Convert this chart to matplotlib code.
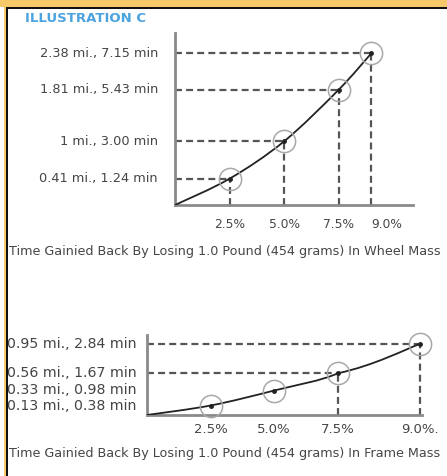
"""Recovery of time gained back by losing mass: wheel vs frame (Illustration C)."""
import numpy as np
import matplotlib.pyplot as plt
from matplotlib.path import Path
from matplotlib.patches import PathPatch, Rectangle
from matplotlib.transforms import blended_transform_factory

plt.rcParams["font.family"] = ["DejaVu Sans"]
plt.rcParams["lines.scale_dashes"] = False

# wheel mass chart (top)
WHEEL_PCT = [2.5, 5.0, 7.5, 9.0]
WHEEL_MIN = [1.24, 3.00, 5.43, 7.15]
WHEEL_LABELS = ["0.41 mi., 1.24 min", "1 mi., 3.00 min",
                "1.81 mi., 5.43 min", "2.38 mi., 7.15 min"]
WHEEL_XTICKS = ["2.5%", "5.0%", "7.5%", "9.0%"]

# frame mass chart (bottom)
FRAME_PCT = [2.5, 5.0, 7.5, 9.0]
FRAME_MIN = [0.38, 0.98, 1.67, 2.84]
FRAME_LABELS = ["0.13 mi., 0.38 min", "0.33 mi., 0.98 min",
                "0.56 mi., 1.67 min", "0.95 mi., 2.84 min"]
FRAME_XTICKS = ["2.5%", "5.0%", "7.5%", "9.0%."]
FRAME_GUIDES = [False, False, True, True]

TITLE = "ILLUSTRATION C"
CAP_WHEEL = "Time Gainied Back By Losing 1.0 Pound (454 grams) In Wheel Mass"
CAP_FRAME = "Time Gainied Back By Losing 1.0 Pound (454 grams) In Frame Mass"

W, H = 447, 476
TEXT = "#454545"
DASH = "#555555"
AXIS = "#8a8a8a"


def px(x0, y0, x1, y1):
    # pixel box (top-left origin) -> figure rect
    return [x0 / W, 1 - y1 / H, (x1 - x0) / W, (y1 - y0) / H]


def smooth_path(xs, ys):
    pts = np.column_stack([xs, ys]).astype(float)
    pad = np.vstack([pts[0], pts, pts[-1]])
    verts, codes = [pts[0]], [Path.MOVETO]
    for i in range(len(pts) - 1):
        p0, p1, p2, p3 = pad[i], pad[i + 1], pad[i + 2], pad[i + 3]
        verts += [p1 + (p2 - p0) / 6, p2 - (p3 - p1) / 6, p2]
        codes += [Path.CURVE4] * 3
    return Path(verts, codes)


def style(ax):
    for s in ("top", "right"):
        ax.spines[s].set_visible(False)
    for s in ("left", "bottom"):
        ax.spines[s].set_color(AXIS)
        ax.spines[s].set_linewidth(2)
    ax.set_yticks([])
    ax.tick_params(length=0, colors=TEXT)
    ax.patch.set_alpha(0)


def draw_points(ax, xs, ys, guides):
    ax.add_patch(PathPatch(smooth_path([0] + xs, [0] + ys), fill=False,
                           edgecolor="#222222", lw=1.3, zorder=4))
    for x, y, g in zip(xs, ys, guides):
        if g:
            ax.plot([0, x], [y, y], color=DASH, lw=1.6, dashes=(5, 3), zorder=2)
            ax.plot([x, x], [0, y], color=DASH, lw=1.6, dashes=(5, 3), zorder=2)
    ax.plot(xs, ys, "o", ms=16, mfc="none", mec="#a8a8a8", mew=1.1,
            zorder=5, clip_on=False)
    ax.plot(xs, ys, "o", ms=2.5, color="#222222", zorder=6, clip_on=False)


fig = plt.figure(figsize=(W / 100, H / 100), dpi=100)

# top chart
ax1 = fig.add_axes(px(175, 33, 413, 205))
style(ax1)
ax1.set_xlim(0, 238 / 21.8)
ax1.set_ylim(0, 172 / 21.2)
draw_points(ax1, WHEEL_PCT, WHEEL_MIN, [True] * 4)
ax1.set_xticks(WHEEL_PCT, WHEEL_XTICKS, fontsize=8.8)
ax1.tick_params(axis="x", pad=9)
ax1.get_xticklabels()[-1].set_horizontalalignment("left")
tr1 = blended_transform_factory(fig.transFigure, ax1.transData)
for y, lab in zip(WHEEL_MIN, WHEEL_LABELS):
    ax1.text(158 / W, y, lab, transform=tr1, ha="right", va="center",
             fontsize=9.3, color=TEXT)

# bottom chart: last step is drawn wider than the others
k = 2.147


def fwd(x):
    x = np.asarray(x, dtype=float)
    return np.where(x <= 7.5, x, 7.5 + (x - 7.5) * k)


def inv(y):
    y = np.asarray(y, dtype=float)
    return np.where(y <= 7.5, y, 7.5 + (y - 7.5) / k)


ax2 = fig.add_axes(px(147, 335, 422, 415))
style(ax2)
ax2.set_xscale("function", functions=(fwd, inv))
ax2.set_xlim(0, 9.04)
ax2.set_ylim(0, 3.2)
draw_points(ax2, FRAME_PCT, FRAME_MIN, FRAME_GUIDES)
ax2.set_xticks(FRAME_PCT, FRAME_XTICKS, fontsize=9.5)
ax2.xaxis.set_minor_locator(plt.NullLocator())
ax2.tick_params(axis="x", pad=6)
tr2 = blended_transform_factory(fig.transFigure, ax2.transData)
for y, lab in zip(FRAME_MIN, FRAME_LABELS):
    ax2.text(7 / W, y, lab, transform=tr2, ha="left", va="center",
             fontsize=10.2, color=TEXT)

# title and captions
fig.text(25 / W, 1 - 18 / H, TITLE, fontsize=9.5, fontweight="bold",
         color="#4ba3df", ha="left", va="center")
fig.text(9 / W, 1 - 252 / H, CAP_WHEEL, fontsize=9.2, color=TEXT,
         ha="left", va="center")
fig.text(9 / W, 1 - 453 / H, CAP_FRAME, fontsize=9.2, color=TEXT,
         ha="left", va="center")

# frame border
for rect, c in [((0, 1 - 7 / H, 1, 7 / H), "#f8c96b"),
                ((4 / W, 0, 2 / W, 1), "#f8c96b"),
                ((6 / W, 1 - 9 / H, 1, 2 / H), "#111111"),
                ((6 / W, 0, 2 / W, 1 - 7 / H), "#111111")]:
    fig.add_artist(Rectangle(rect[:2], rect[2], rect[3], color=c, lw=0,
                             transform=fig.transFigure, zorder=20))

fig.savefig("out.png", dpi=100)
